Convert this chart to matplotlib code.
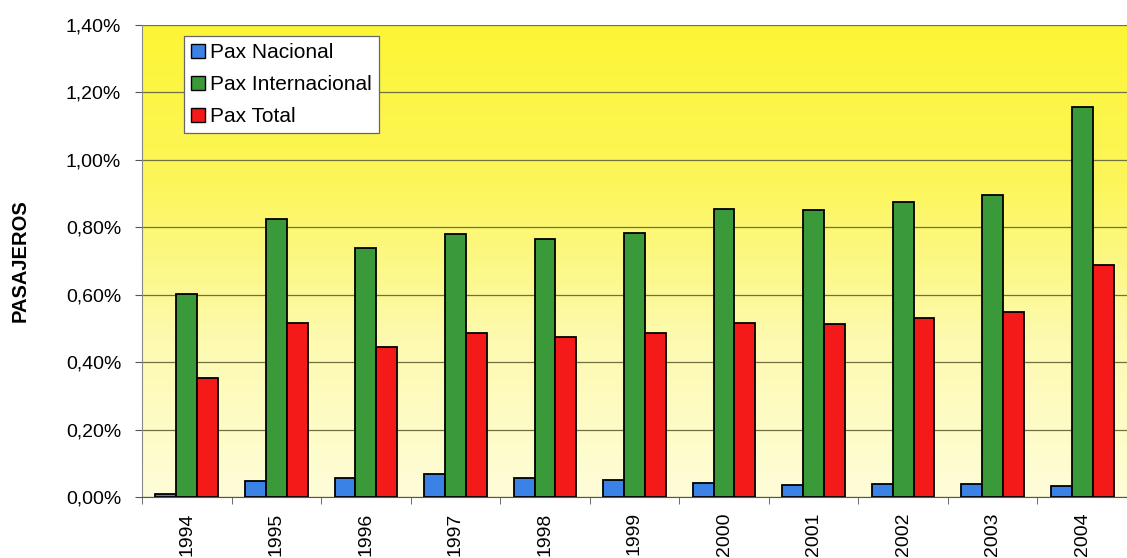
import matplotlib
matplotlib.use('Agg')
import matplotlib.pyplot as plt
import numpy as np
from matplotlib.colors import LinearSegmentedColormap
from matplotlib.ticker import FuncFormatter

# datos (porcentaje)
years = ['1994', '1995', '1996', '1997', '1998', '1999', '2000', '2001', '2002', '2003', '2004']
pax_nacional = [0.010, 0.046, 0.055, 0.069, 0.055, 0.051, 0.042, 0.037, 0.040, 0.038, 0.032]
pax_internacional = [0.603, 0.825, 0.740, 0.779, 0.765, 0.782, 0.854, 0.850, 0.875, 0.896, 1.158]
pax_total = [0.353, 0.516, 0.446, 0.486, 0.474, 0.486, 0.515, 0.512, 0.531, 0.549, 0.687]

plt.rcParams['font.family'] = ['Liberation Sans', 'DejaVu Sans']

fig = plt.figure(figsize=(11.27, 5.58), dpi=100)
ax = fig.add_axes([142/1127, 1 - 497/558, 1 - 142/1127, (497 - 25)/558])

x = np.arange(len(years))
width = 0.233

# fondo degradado amarillo
cmap = LinearSegmentedColormap.from_list('fondo', ['#fefdd8', '#fdfab0', '#fcf65a', '#fdf535'])
grad = np.linspace(0, 1, 256).reshape(-1, 1)
ax.imshow(grad, extent=(-0.5, len(years) - 0.5, 0, 1.4), origin='lower',
          aspect='auto', cmap=cmap, zorder=0)

ax.set_axisbelow(True)
ax.yaxis.grid(True, color='#707040', linewidth=0.9, zorder=1)

ax.bar(x - width, pax_nacional, width, color='#3b82e6', edgecolor='black', linewidth=1.3,
       label='Pax Nacional', zorder=3)
ax.bar(x, pax_internacional, width, color='#3a9a3a', edgecolor='black', linewidth=1.3,
       label='Pax Internacional', zorder=3)
ax.bar(x + width, pax_total, width, color='#f51a1a', edgecolor='black', linewidth=1.3,
       label='Pax Total', zorder=3)

ax.set_xlim(-0.5, len(years) - 0.5)
ax.set_ylim(0, 1.4)
ax.set_yticks(np.arange(0, 1.41, 0.2))
ax.yaxis.set_major_formatter(FuncFormatter(lambda v, p: ('%.2f%%' % v).replace('.', ',')))
ax.set_xticks(x)
ax.set_xticklabels(years, rotation=90, fontsize=14)
ax.set_xticks(np.arange(-0.5, len(years)), minor=True)
ax.tick_params(axis='x', which='major', length=0, pad=11)
ax.tick_params(axis='x', which='minor', length=5, color='#555555')
ax.tick_params(axis='y', labelsize=14, length=5, color='#555555', pad=10)

for s in ['top', 'right']:
    ax.spines[s].set_visible(False)
ax.spines['left'].set_color('#888888')
ax.spines['bottom'].set_color('#555555')

ax.set_ylabel('PASAJEROS', fontsize=14.5, fontweight='bold', labelpad=26)

leg = ax.legend(loc='upper left', bbox_to_anchor=(0.0426, 0.977), borderaxespad=0,
                fontsize=15, frameon=True, fancybox=False, edgecolor='#666666',
                framealpha=1, handlelength=0.65, handleheight=0.65, handletextpad=0.25,
                borderpad=0.35, labelspacing=0.62)
leg.get_frame().set_linewidth(0.9)
for h in leg.legend_handles:
    h.set_linewidth(1.0)

fig.savefig('out.png', dpi=100)
